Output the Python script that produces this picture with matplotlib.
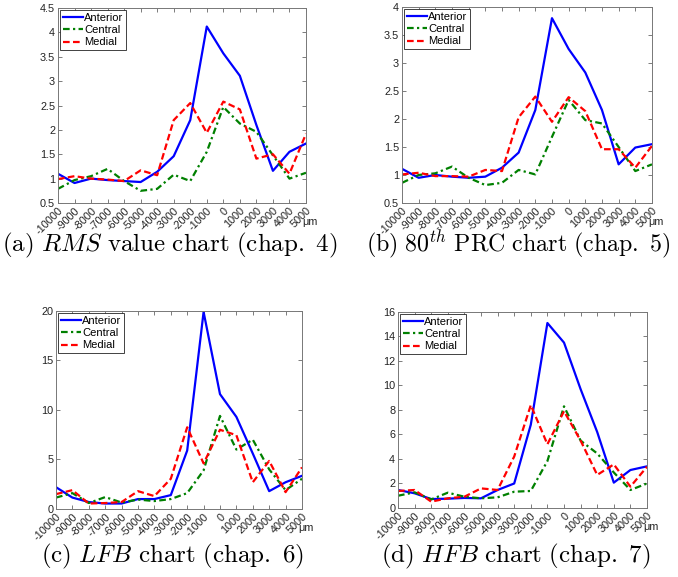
import numpy as np
import matplotlib
matplotlib.use('Agg')
import matplotlib.pyplot as plt
from matplotlib.ticker import FormatStrFormatter

plt.rcParams['font.family'] = ['Liberation Sans', 'DejaVu Sans']
plt.rcParams['mathtext.fontset'] = 'cm'

################### data ##############################

positions = [-10000, -9000, -8000, -7000, -6000, -5000, -4000, -3000,
             -2000, -1000, 0, 1000, 2000, 3000, 4000, 5000]

# (a) RMS value chart
rms_anterior = [1.10, 0.91, 1.00, 0.97, 0.95, 0.93, 1.14, 1.46, 2.20, 4.12, 3.57, 3.11, 2.10, 1.16, 1.55, 1.72]
rms_central = [0.79, 0.97, 1.05, 1.20, 0.95, 0.75, 0.79, 1.08, 0.95, 1.55, 2.47, 2.13, 1.96, 1.48, 1.00, 1.12]
rms_medial = [0.99, 1.05, 1.00, 0.98, 0.95, 1.17, 1.07, 2.20, 2.55, 1.94, 2.58, 2.42, 1.41, 1.50, 1.10, 1.92]

# (b) 80th PRC chart
prc_anterior = [1.11, 0.95, 1.00, 0.97, 0.95, 0.97, 1.13, 1.40, 2.16, 3.80, 3.25, 2.83, 2.16, 1.19, 1.49, 1.55]
prc_central = [0.86, 1.00, 1.03, 1.15, 0.95, 0.82, 0.86, 1.09, 1.01, 1.68, 2.34, 1.98, 1.92, 1.50, 1.07, 1.19]
prc_medial = [1.01, 1.04, 0.98, 0.98, 0.97, 1.09, 1.07, 2.03, 2.40, 1.95, 2.39, 2.14, 1.46, 1.46, 1.13, 1.52]

# (c) LFB chart
lfb_anterior = [2.2, 1.15, 0.7, 0.55, 0.55, 1.0, 1.0, 1.4, 5.9, 19.9, 11.6, 9.3, 5.6, 1.8, 2.7, 3.35]
lfb_central = [1.15, 1.6, 0.6, 1.2, 0.65, 0.95, 0.8, 1.0, 1.6, 3.9, 9.4, 6.0, 7.0, 4.0, 1.9, 3.05]
lfb_medial = [1.5, 1.9, 0.55, 0.6, 0.7, 1.8, 1.3, 3.05, 8.25, 4.6, 8.0, 7.45, 2.7, 4.85, 1.7, 4.2]

# (d) HFB chart
hfb_anterior = [1.47, 1.2, 0.73, 0.76, 0.82, 0.79, 1.47, 2.0, 6.8, 15.1, 13.5, 9.7, 6.2, 2.07, 3.1, 3.4]
hfb_central = [1.0, 1.28, 0.7, 1.25, 0.92, 0.79, 0.87, 1.33, 1.39, 3.83, 8.3, 5.5, 4.45, 2.9, 1.47, 2.0]
hfb_medial = [1.39, 1.47, 0.52, 0.79, 0.92, 1.6, 1.47, 4.2, 8.4, 5.2, 7.9, 5.5, 2.7, 3.56, 1.74, 3.37]

series_names = ['Anterior', 'Central', 'Medial']

captions = [r'$\mathrm{(a)}\ RMS\ \mathrm{value\ chart\ (chap.\ 4)}$',
            r'$\mathrm{(b)}\ \mathrm{80}^{th}\ \mathrm{PRC\ chart\ (chap.\ 5)}$',
            r'$\mathrm{(c)}\ LFB\ \mathrm{chart\ (chap.\ 6)}$',
            r'$\mathrm{(d)}\ HFB\ \mathrm{chart\ (chap.\ 7)}$']

y_ticks = [np.arange(0.5, 4.51, 0.5), np.arange(0.5, 4.01, 0.5),
           np.arange(0, 20.1, 5), np.arange(0, 16.1, 2)]

################### figure ##############################

fig = plt.figure(figsize=(6.78, 5.77), dpi=100)

# [left, bottom, width, height] of each panel
boxes = [[0.0855, 0.6482, 0.3658, 0.3379],
         [0.5929, 0.6482, 0.3687, 0.3397],
         [0.0826, 0.1179, 0.3628, 0.3432],
         [0.5870, 0.1196, 0.3673, 0.3397]]

# caption centres (figure fraction) and sizes
cap_xy = [(0.2507, 0.5754), (0.7640, 0.5754), (0.2537, 0.0364), (0.7611, 0.0364)]
cap_size = [18, 17.2, 18, 18]

panels = [(rms_anterior, rms_central, rms_medial),
          (prc_anterior, prc_central, prc_medial),
          (lfb_anterior, lfb_central, lfb_medial),
          (hfb_anterior, hfb_central, hfb_medial)]

styles = [dict(color='#0000ff', ls='-', lw=1.6),
          dict(color='#008000', ls=(0, (3, 1.5, 1, 1.5)), lw=1.6),
          dict(color='#ff0000', ls=(0, (3, 1.5)), lw=1.6)]

for i in range(4):
    ax = fig.add_axes(boxes[i])
    for vals, name, st in zip(panels[i], series_names, styles):
        ax.plot(positions, vals, label=name, **st)

    ax.set_xlim(positions[0], positions[-1])
    ax.set_ylim(y_ticks[i][0], y_ticks[i][-1])
    ax.set_xticks(positions)
    ax.set_yticks(y_ticks[i])
    ax.xaxis.set_major_formatter(FormatStrFormatter('%g'))
    ax.yaxis.set_major_formatter(FormatStrFormatter('%g'))
    ax.tick_params(direction='in', length=3, width=0.6, top=True, right=True,
                   labelsize=7.8, colors='#666666', labelcolor='#222222', pad=2)
    for lab in ax.get_xticklabels():
        lab.set_rotation(45)
        lab.set_ha('right')
        lab.set_va('top')
        lab.set_rotation_mode('anchor')
    for sp in ax.spines.values():
        sp.set_color('#777777')
        sp.set_linewidth(0.7)

    ax.annotate('μm', xy=(1, 0), xycoords='axes fraction', xytext=(4, -19),
                textcoords='offset pixels', ha='center', va='center',
                fontsize=7.8, color='#222222')

    leg = ax.legend(loc='upper left', fontsize=8, handlelength=1.8,
                    handletextpad=0.1, labelspacing=0.2, borderpad=0.25,
                    borderaxespad=0.2, fancybox=False, framealpha=1)
    leg.get_frame().set_edgecolor('#222222')
    leg.get_frame().set_linewidth(0.6)

    fig.text(cap_xy[i][0], cap_xy[i][1], captions[i], ha='center', va='center',
             fontsize=cap_size[i])

fig.savefig('out.png', dpi=100)
plt.close()
